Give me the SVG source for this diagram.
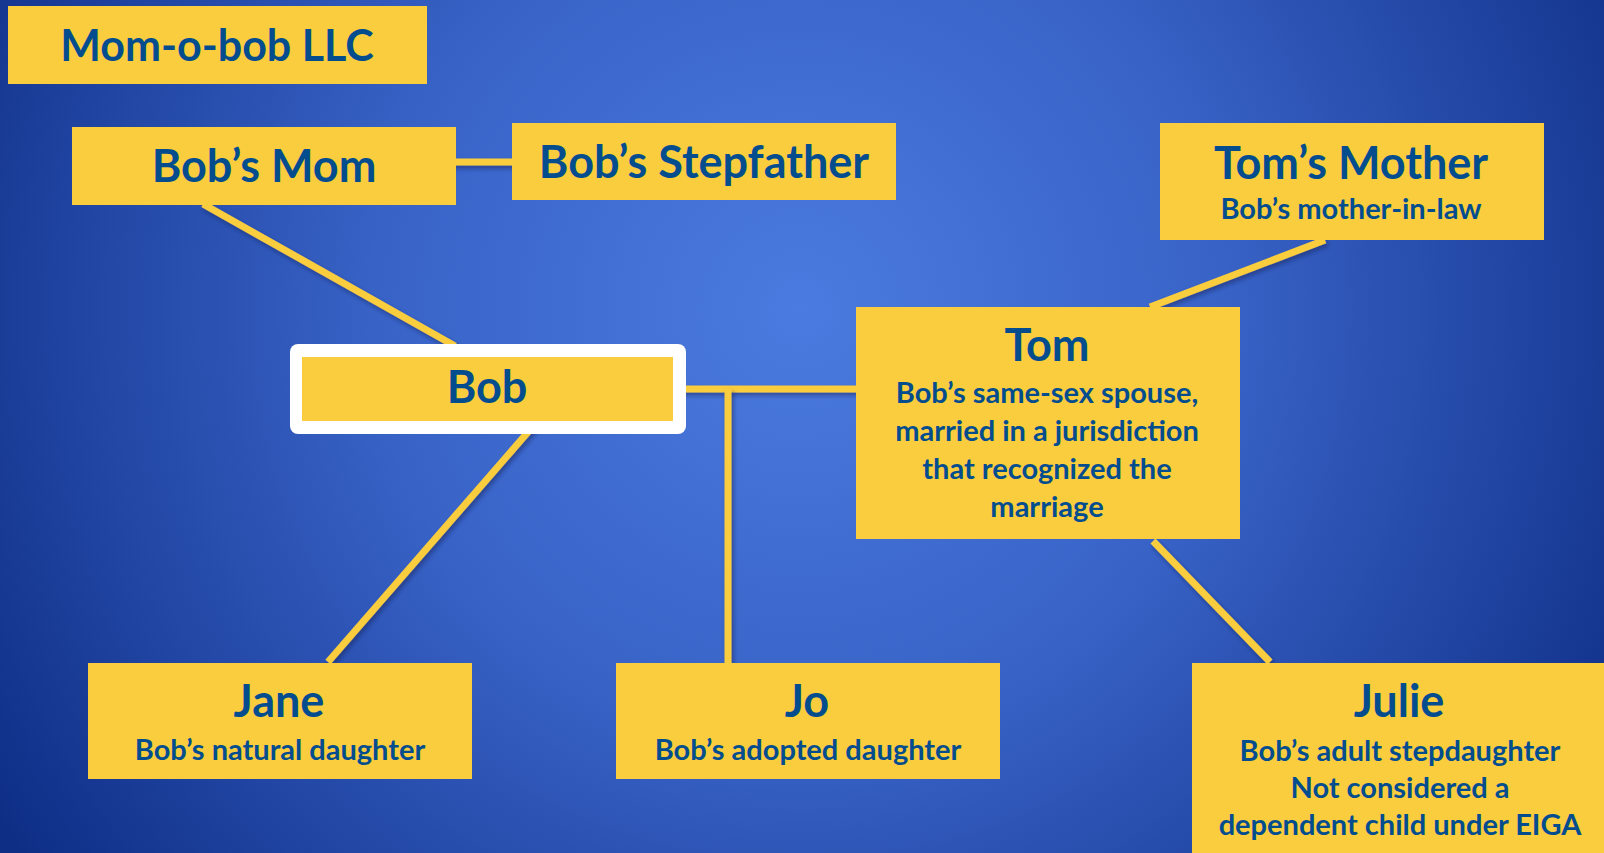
<svg xmlns="http://www.w3.org/2000/svg" width="1604" height="853" viewBox="0 0 1604 853">
  <defs>
    <radialGradient id="bg" gradientUnits="userSpaceOnUse" cx="800" cy="310" r="950">
      <stop offset="0" stop-color="#4B7BE0"/>
      <stop offset="0.45" stop-color="#3862C6"/>
      <stop offset="1" stop-color="#0E2E86"/>
    </radialGradient>
    <filter id="sh" filterUnits="userSpaceOnUse" x="0" y="0" width="1604" height="853">
      <feDropShadow dx="2" dy="3" stdDeviation="2" flood-color="#0a1d55" flood-opacity="0.5"/>
    </filter>
  </defs>
  <style>
    .box { fill: #F9CD3D; }
    .t { font-family: Lato, "Open Sans", sans-serif; font-weight: bold; fill: #034D8F; text-anchor: middle; }
    .llc { font-size: 43px; }
    .big { font-size: 45px; }
    .sub { font-size: 29px; }
    .ln { stroke: #F9CD3D; stroke-width: 7; fill: none; filter: url(#sh); }
  </style>
  <rect x="0" y="0" width="1604" height="853" fill="url(#bg)"/>

  <g id="connectors">
    <line class="ln" x1="440" y1="162" x2="514" y2="162"/>
    <line class="ln" x1="203" y1="204" x2="455" y2="346"/>
    <line class="ln" x1="1325" y1="240" x2="1150" y2="307"/>
    <line class="ln" x1="680" y1="389" x2="858" y2="389"/>
    <line class="ln" x1="728" y1="389" x2="728" y2="664"/>
    <line class="ln" x1="535" y1="424" x2="328" y2="662"/>
    <line class="ln" x1="1153" y1="541" x2="1270" y2="662"/>
  </g>

  <g id="llc">
    <rect class="box" x="8" y="6" width="419" height="78"/>
    <text class="t llc" x="217" y="61">Mom-o-bob LLC</text>
  </g>
  <g id="bobs-mom">
    <rect class="box" x="72" y="127" width="384" height="78"/>
    <text class="t big" x="264" y="182">Bob’s Mom</text>
  </g>
  <g id="bobs-stepfather">
    <rect class="box" x="512" y="123" width="384" height="77"/>
    <text class="t big" x="704" y="178">Bob’s Stepfather</text>
  </g>
  <g id="toms-mother">
    <rect class="box" x="1160" y="123" width="384" height="117"/>
    <text class="t big" x="1351" y="179">Tom’s Mother</text>
    <text class="t sub" x="1351" y="219">Bob’s mother-in-law</text>
  </g>
  <g id="bob">
    <rect x="290" y="344" width="396" height="90" rx="8" fill="#FFFFFF"/>
    <rect class="box" x="302" y="357" width="371" height="64"/>
    <text class="t big" x="487" y="403">Bob</text>
  </g>
  <g id="tom">
    <rect class="box" x="856" y="307" width="384" height="232"/>
    <text class="t big" x="1047" y="361">Tom</text>
    <text class="t sub" x="1047" y="403">Bob’s same-sex spouse,</text>
    <text class="t sub" x="1047" y="441">married in a jurisdiction</text>
    <text class="t sub" x="1047" y="479">that recognized the</text>
    <text class="t sub" x="1047" y="517">marriage</text>
  </g>
  <g id="jane">
    <rect class="box" x="88" y="663" width="384" height="116"/>
    <text class="t big" x="279" y="717">Jane</text>
    <text class="t sub" x="280" y="760">Bob’s natural daughter</text>
  </g>
  <g id="jo">
    <rect class="box" x="616" y="663" width="384" height="116"/>
    <text class="t big" x="807" y="717">Jo</text>
    <text class="t sub" x="808" y="760">Bob’s adopted daughter</text>
  </g>
  <g id="julie">
    <rect class="box" x="1192" y="663" width="420" height="200"/>
    <text class="t big" x="1399" y="717">Julie</text>
    <text class="t sub" x="1400" y="761">Bob’s adult stepdaughter</text>
    <text class="t sub" x="1400" y="798">Not considered a</text>
    <text class="t sub" x="1400" y="835">dependent child under EIGA</text>
  </g>
</svg>
